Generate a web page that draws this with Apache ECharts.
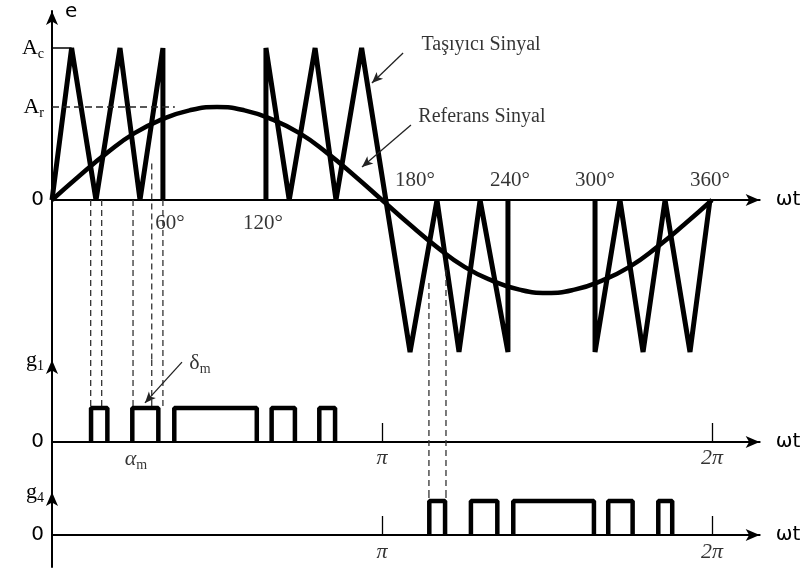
<!DOCTYPE html>
<html>
<head>
<meta charset="utf-8">
<script src="https://cdn.jsdelivr.net/npm/echarts@6/dist/echarts.min.js"></script>
<style>
  html, body { margin: 0; padding: 0; background: #fff; }
  #chart { width: 808px; height: 572px; }
</style>
</head>
<body>
<div id="chart"></div>
<script>
// ---- Signal data (angle in degrees, amplitude in units of Ac) ----
const Ac = 1;
const Ar = 0.612;

// Reference (modulating) sine, sampled every 15 degrees
const refDeg = [0, 15, 30, 45, 60, 75, 90, 105, 120, 135, 150, 165, 180,
                195, 210, 225, 240, 255, 270, 285, 300, 315, 330, 345, 360];
const refE = [0, 0.16, 0.31, 0.44, 0.53, 0.59, 0.612, 0.59, 0.53, 0.44, 0.31, 0.16, 0,
              -0.16, -0.31, -0.44, -0.53, -0.59, -0.612, -0.59, -0.53, -0.44, -0.31, -0.16, 0];

// Carrier triangle wave, drawn in three separate pieces
const carrierPart1 = [[0, 0], [10.7, 1], [24.0, 0], [37.1, 1], [48.0, 0], [60.5, 1], [60.5, 0]];
const carrierPart2 = [[116.7, 0], [116.7, 1], [129.4, 0], [143.5, 1], [154.9, 0], [168.9, 1],
                      [195.3, -1], [210.0, 0], [222.0, -1], [233.5, 0], [248.7, -1], [248.7, 0]];
const carrierPart3 = [[296.2, 0], [296.2, -1], [309.8, 0], [322.4, -1], [334.4, 0], [348.0, -1], [358.9, 0]];

// Gate pulses: [rising edge, falling edge] in degrees
const g1Pulses = [[21.3, 30.2], [43.8, 58.0], [66.7, 111.7], [119.8, 132.5], [145.8, 154.4]];
const g4Pulses = [[205.8, 214.4], [228.5, 242.9], [251.6, 295.6], [303.4, 316.7], [330.7, 338.3]];

// Projection guides: [angle, amplitude where the guide starts]
const g1Guides = [[21.1, 0], [27.1, 0], [44.2, 0], [54.4, 0.24], [60.5, 0]];
const g4Guides = [[205.6, -0.546], [214.9, -0.46]];

// Angle tick labels on the top axis
const angleTicks = [60, 120, 180, 240, 300, 360];
const angleText = ['60°', '120°', '180°', '240°', '300°', '360°'];

// Radian marks on the gate axes
const radTicks = [180, 360];
const radText = ['π', '2π'];
const alphaAt = 45.8;

// ---- Layout ----
const SERIF = 'Liberation Serif';
const SANS = 'DejaVu Sans';
const PX_PER_DEG = 660 / 360;
const X_MAX = 386;
const LEFT = 52;
const WIDTH = X_MAX * PX_PER_DEG;

// pixel rows: top of each panel, its zero line and its bottom
const P0 = { top: 11, zero: 200, bottom: 360, unit: 152 };
const P1 = { top: 360, zero: 442, bottom: 492, unit: 34 };
const P2 = { top: 492, zero: 535, bottom: 567, unit: 34 };
const ext = p => ({ min: -(p.bottom - p.zero) / p.unit, max: (p.zero - p.top) / p.unit });
const E0 = ext(P0), E1 = ext(P1), E2 = ext(P2);

const rich = {
  b: { fontFamily: SERIF, fontSize: 22, color: '#000' },
  s: { fontFamily: SERIF, fontSize: 14, color: '#000', padding: [13, 0, 0, 0] },
  z: { fontFamily: SANS, fontSize: 20, color: '#000' },
  i: { fontFamily: SERIF, fontSize: 22, fontStyle: 'italic', color: '#000' },
  u: { fontFamily: SERIF, fontSize: 22, color: '#000' },
  t: { fontFamily: SERIF, fontSize: 21, color: '#000' },
  n: { fontFamily: SERIF, fontSize: 20, color: '#000' }
};

const axisLineStyle = { color: '#000', width: 2 };
const arrowLine = { show: true, onZero: true, symbol: ['none', 'arrow'], symbolSize: [9, 14], lineStyle: axisLineStyle };

function xAxisFor(gridIndex, withTicks) {
  return {
    type: 'value', gridIndex, min: 0, max: X_MAX,
    axisLine: arrowLine,
    splitLine: { show: false },
    axisTick: withTicks
      ? { show: true, inside: true, length: 19, customValues: radTicks, lineStyle: { color: '#000', width: 1.3 } }
      : { show: false },
    axisLabel: { show: false },
    name: 'ωt', nameLocation: 'end', nameGap: 16,
    nameTextStyle: { fontFamily: SANS, fontSize: 20, color: '#000' }
  };
}

function yAxisFor(gridIndex, e, labels) {
  return {
    type: 'value', gridIndex, min: e.min, max: e.max,
    axisLine: { show: true, onZero: true, symbol: ['none', 'arrow'], symbolSize: [9, 14], lineStyle: axisLineStyle },
    splitLine: { show: false },
    axisTick: { show: false },
    axisLabel: {
      show: true, margin: 8, rich,
      customValues: labels.map(l => l[0]),
      formatter: v => { const hit = labels.find(l => Math.abs(l[0] - v) < 1e-6); return hit ? hit[1] : ''; }
    }
  };
}

function lineSeries(gridIndex, data, style, extra) {
  return Object.assign({
    type: 'line', xAxisIndex: gridIndex, yAxisIndex: gridIndex,
    data, symbol: 'none', clip: false, silent: true,
    lineStyle: Object.assign({ color: '#000', width: 5 }, style)
  }, extra || {});
}

const dashed = { width: 1.3, color: '#333', type: [6, 4] };
const series = [];

// carrier and reference signal
[carrierPart1, carrierPart2, carrierPart3].forEach(part => series.push(lineSeries(0, part, { width: 5 })));
series.push(lineSeries(0, refDeg.map((d, i) => [d, refE[i]]), { width: 4.5 }, { smooth: true }));

// amplitude markers
series.push(lineSeries(0, [[0, Ac], [carrierPart1[1][0], Ac]], { width: 1.5 }));
series.push(lineSeries(0, [[0, Ar], [67, Ar]], { width: 1.5, type: [7, 4], color: '#222' }));

// projection guides across the panels
g1Guides.forEach(([d, e]) => {
  series.push(lineSeries(0, [[d, e], [d, E0.min]], dashed));
  series.push(lineSeries(1, [[d, E1.max], [d, 1]], dashed));
});
g4Guides.forEach(([d, e]) => {
  series.push(lineSeries(0, [[d, e], [d, E0.min]], dashed));
  series.push(lineSeries(1, [[d, E1.max], [d, E1.min]], dashed));
  series.push(lineSeries(2, [[d, E2.max], [d, 1]], dashed));
});

// gate pulses
const pulsePath = ([a, b]) => [[a, 0], [a, 1], [b, 1], [b, 0]];
g1Pulses.forEach(p => series.push(lineSeries(1, pulsePath(p), { width: 4.5 })));
g4Pulses.forEach(p => series.push(lineSeries(2, pulsePath(p), { width: 4.5 })));

// annotations
const arrowMark = (pairs) => ({
  silent: true, symbol: ['none', 'arrow'], symbolSize: [7, 11],
  lineStyle: { type: 'solid', color: '#222', width: 1.3 },
  label: { show: false }, emphasis: { disabled: true },
  data: pairs.map(([a, b]) => [{ coord: a }, { coord: b }])
});
function textLayer(gridIndex, data, arrows) {
  const s = {
    type: 'scatter', xAxisIndex: gridIndex, yAxisIndex: gridIndex, silent: true, clip: false,
    symbolSize: 1, itemStyle: { color: 'rgba(0,0,0,0)' },
    label: { show: true, position: 'inside', rich },
    data
  };
  if (arrows) s.markLine = arrowMark(arrows);
  return s;
}
const tickOffsets = [[8, 23], [-9, 23], [33, -20], [18, -20], [-7, -20], [-2, -20]];
series.push(textLayer(0,
  angleTicks.map((d, i) => ({ value: [d, 0], label: { formatter: '{t|' + angleText[i] + '}', offset: tickOffsets[i] } }))
    .concat([
      { value: [234, 1.02], label: { formatter: '{n|Taşıyıcı Sinyal}' } },
      { value: [234.5, 0.546], label: { formatter: '{n|Referans Sinyal}' } }
    ]),
  [[[191.5, 0.967], [174.5, 0.77]], [[195.8, 0.493], [169.1, 0.217]]]
));
const radLabels = (dy) => radTicks.map((d, i) => ({ value: [d, 0], label: { formatter: '{i|' + radText[i] + '}', offset: [0, dy] } }));
series.push(textLayer(1,
  radLabels(16).concat([
    { value: [alphaAt, 0], label: { formatter: '{i|α}{s|m}', offset: [0, 17] } },
    { value: [80.7, 2.32], label: { formatter: '{u|δ}{s|m}' } }
  ]),
  [[[70.9, 2.35], [50.7, 1.15]]]
));
series.push(textLayer(2, radLabels(17)));

const grid = [P0, P1, P2].map(p => ({
  left: LEFT, width: WIDTH, top: p.top, height: p.bottom - p.top,
  containLabel: false, outerBoundsMode: 'none'
}));

const y0 = yAxisFor(0, E0, [[0, '{z|0}'], [Ar, '{b|A}{s|r}'], [Ac, '{b|A}{s|c}']]);
y0.name = 'e';
y0.nameLocation = 'end';
y0.nameGap = -11;
y0.nameTextStyle = { fontFamily: SANS, fontSize: 20, color: '#000', align: 'left', padding: [0, 0, 0, 13] };

const option = {
  animation: false,
  backgroundColor: '#fff',
  textStyle: { fontFamily: SERIF, color: '#000' },
  grid,
  xAxis: [xAxisFor(0, false), xAxisFor(1, true), xAxisFor(2, true)],
  yAxis: [
    y0,
    yAxisFor(1, E1, [[0, '{z|0}'], [E1.max, '{b|g}{s|1}']]),
    yAxisFor(2, E2, [[0, '{z|0}'], [E2.max, '{b|g}{s|4}']])
  ],
  series
};

const chart = echarts.init(document.getElementById('chart'));
chart.setOption(option);
</script>
</body>
</html>
